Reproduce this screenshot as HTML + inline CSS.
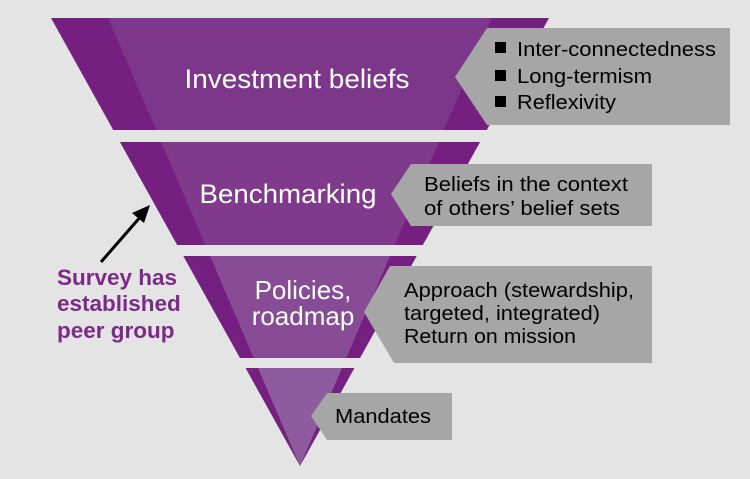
<!DOCTYPE html>
<html><head><style>
body{margin:0;width:750px;height:479px;background:#e4e4e4;overflow:hidden}
svg{display:block}
text{font-family:"Liberation Sans",sans-serif}
</style></head><body>
<svg width="750" height="479" viewBox="0 0 750 479">
<defs>
<clipPath id="b1"><rect x="0" y="18" width="750" height="112"/></clipPath>
<clipPath id="b2"><rect x="0" y="142" width="750" height="103"/></clipPath>
<clipPath id="b3"><rect x="0" y="256" width="750" height="102"/></clipPath>
<clipPath id="b4"><rect x="0" y="368" width="750" height="100"/></clipPath>
</defs>
<g clip-path="url(#b1)"><polygon points="51,18 549,18 300,466" fill="#751f80"/><polygon points="108,18 492,18 300,466" fill="#7d378a"/></g>
<g clip-path="url(#b2)"><polygon points="51,18 549,18 300,466" fill="#751f80"/><polygon points="108,18 492,18 300,466" fill="#7f3a8c"/></g>
<g clip-path="url(#b3)"><polygon points="51,18 549,18 300,466" fill="#751f80"/><polygon points="108,18 492,18 300,466" fill="#884b95"/></g>
<g clip-path="url(#b4)"><polygon points="51,18 549,18 300,466" fill="#76217f"/><polygon points="108,18 492,18 300,466" fill="#8e5b9e"/></g>

<polygon points="455,77 487,28 730,28 730,125 487,125" fill="#a6a6a6"/>
<polygon points="391,194 411,164 652,164 652,226 411,226" fill="#a6a6a6"/>
<polygon points="364,312 390,266 652,266 652,363 394,363" fill="#a6a6a6"/>
<polygon points="311,416 327,393 452,393 452,440 327,440" fill="#a6a6a6"/>

<text x="297" y="88" fill="#fff" font-size="27" text-anchor="middle" textLength="225" lengthAdjust="spacingAndGlyphs">Investment beliefs</text>
<text x="288" y="203" fill="#fff" font-size="27" text-anchor="middle" textLength="177" lengthAdjust="spacingAndGlyphs">Benchmarking</text>
<text x="303" y="299" fill="#fff" font-size="26" text-anchor="middle">Policies,</text>
<text x="303" y="325" fill="#fff" font-size="26" text-anchor="middle">roadmap</text>

<g font-size="20" fill="#000">
<rect x="495" y="42" width="11" height="11"/><text x="517" y="56" textLength="199" lengthAdjust="spacingAndGlyphs">Inter-connectedness</text>
<rect x="495" y="70" width="11" height="11"/><text x="517" y="83" textLength="135" lengthAdjust="spacingAndGlyphs">Long-termism</text>
<rect x="495" y="96" width="11" height="11"/><text x="517" y="109" textLength="99" lengthAdjust="spacingAndGlyphs">Reflexivity</text>
<text x="424" y="191" textLength="204" lengthAdjust="spacingAndGlyphs">Beliefs in the context</text>
<text x="424" y="215" textLength="196" lengthAdjust="spacingAndGlyphs">of others’ belief sets</text>
<text x="404" y="297" textLength="230" lengthAdjust="spacingAndGlyphs">Approach (stewardship,</text>
<text x="404" y="320" textLength="196" lengthAdjust="spacingAndGlyphs">targeted, integrated)</text>
<text x="404" y="343" textLength="172" lengthAdjust="spacingAndGlyphs">Return on mission</text>
<text x="335" y="423" textLength="96" lengthAdjust="spacingAndGlyphs">Mandates</text>
</g>

<line x1="101" y1="262" x2="142" y2="215" stroke="#000" stroke-width="3"/>
<polygon points="150,205 132,213 144,223" fill="#000"/>
<g font-size="22.5" font-weight="bold" fill="#7b2a88">
<text x="57" y="285">Survey has</text>
<text x="57" y="311">established</text>
<text x="57" y="338">peer group</text>
</g>
</svg>
</body></html>
